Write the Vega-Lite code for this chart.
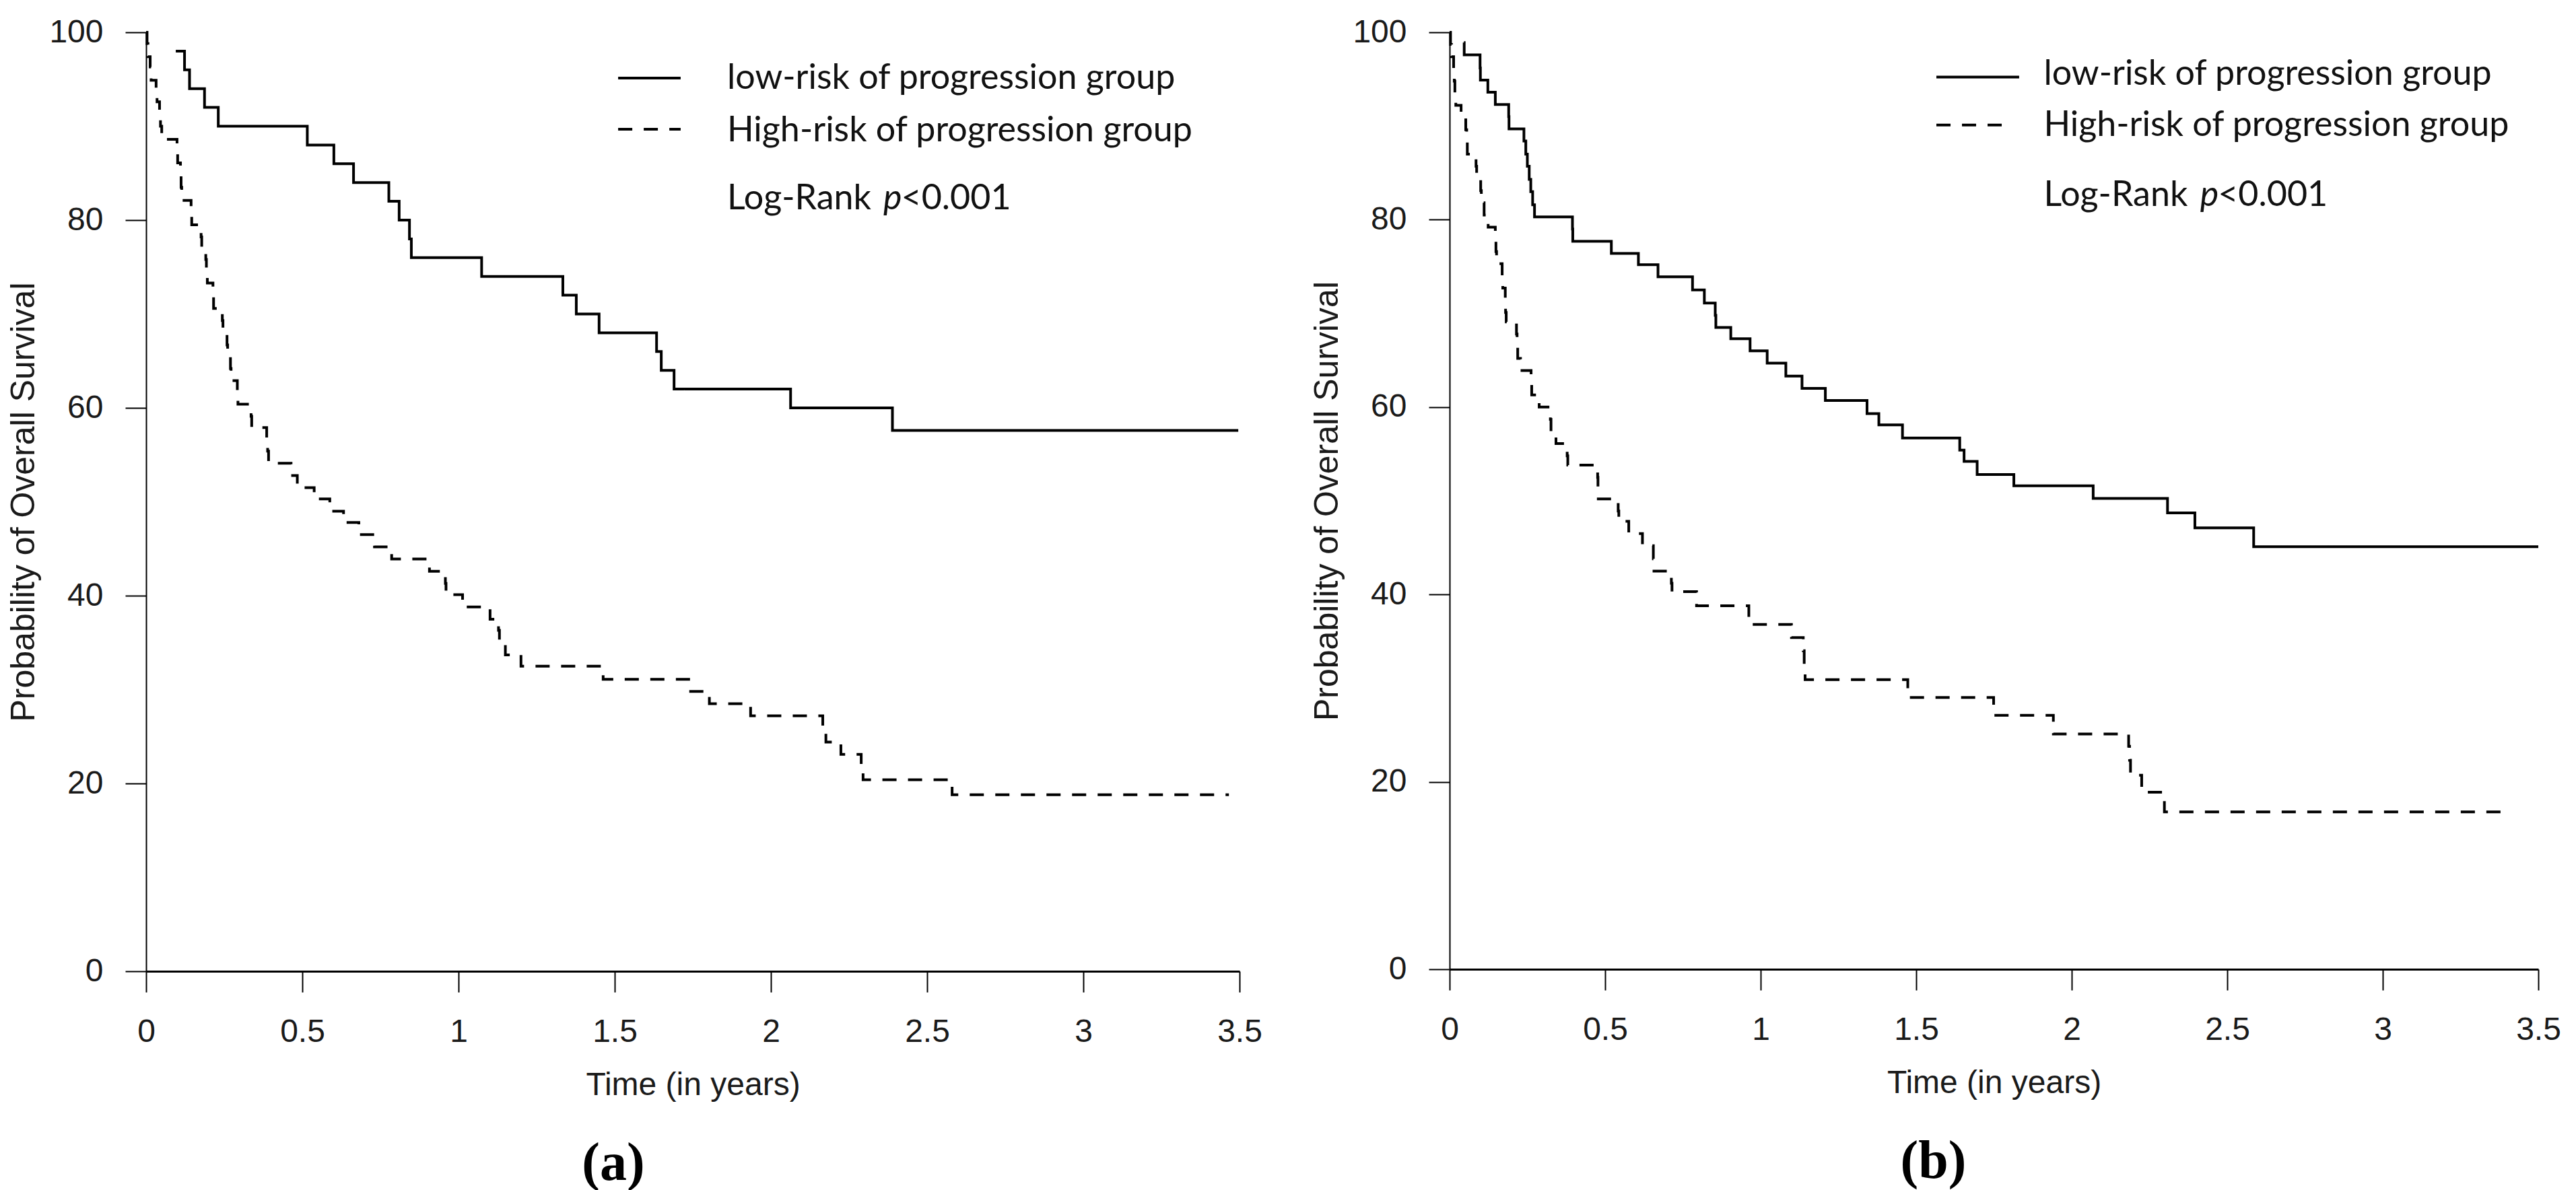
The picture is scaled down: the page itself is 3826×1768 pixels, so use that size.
{
  "$schema": "https://vega.github.io/schema/vega-lite/v6.json",
  "background": "white",
  "padding": {"left": 10, "top": 24, "right": 20, "bottom": 0},
  "datasets": {
    "a": [
      {"time": 0.095, "survival": 98, "group": "low-risk of progression group"},
      {"time": 0.123, "survival": 96, "group": "low-risk of progression group"},
      {"time": 0.139, "survival": 94, "group": "low-risk of progression group"},
      {"time": 0.187, "survival": 92, "group": "low-risk of progression group"},
      {"time": 0.231, "survival": 90, "group": "low-risk of progression group"},
      {"time": 0.516, "survival": 88, "group": "low-risk of progression group"},
      {"time": 0.601, "survival": 86, "group": "low-risk of progression group"},
      {"time": 0.664, "survival": 84, "group": "low-risk of progression group"},
      {"time": 0.777, "survival": 82, "group": "low-risk of progression group"},
      {"time": 0.81, "survival": 80, "group": "low-risk of progression group"},
      {"time": 0.843, "survival": 78, "group": "low-risk of progression group"},
      {"time": 0.849, "survival": 76, "group": "low-risk of progression group"},
      {"time": 1.074, "survival": 74, "group": "low-risk of progression group"},
      {"time": 1.334, "survival": 72, "group": "low-risk of progression group"},
      {"time": 1.377, "survival": 70, "group": "low-risk of progression group"},
      {"time": 1.45, "survival": 68, "group": "low-risk of progression group"},
      {"time": 1.634, "survival": 66, "group": "low-risk of progression group"},
      {"time": 1.649, "survival": 64, "group": "low-risk of progression group"},
      {"time": 1.69, "survival": 62, "group": "low-risk of progression group"},
      {"time": 2.063, "survival": 60, "group": "low-risk of progression group"},
      {"time": 2.389, "survival": 57.6, "group": "low-risk of progression group"},
      {"time": 3.496, "survival": 57.6, "group": "low-risk of progression group"},
      {"time": 0, "survival": 100, "group": "High-risk of progression group"},
      {"time": 0.003, "survival": 98.8, "group": "High-risk of progression group"},
      {"time": 0.006, "survival": 97.4, "group": "High-risk of progression group"},
      {"time": 0.013, "survival": 96.3, "group": "High-risk of progression group"},
      {"time": 0.016, "survival": 94.9, "group": "High-risk of progression group"},
      {"time": 0.032, "survival": 93.8, "group": "High-risk of progression group"},
      {"time": 0.035, "survival": 92.6, "group": "High-risk of progression group"},
      {"time": 0.043, "survival": 91.4, "group": "High-risk of progression group"},
      {"time": 0.046, "survival": 90.0, "group": "High-risk of progression group"},
      {"time": 0.05, "survival": 88.6, "group": "High-risk of progression group"},
      {"time": 0.099, "survival": 87.3, "group": "High-risk of progression group"},
      {"time": 0.101, "survival": 86.1, "group": "High-risk of progression group"},
      {"time": 0.11, "survival": 84.8, "group": "High-risk of progression group"},
      {"time": 0.112, "survival": 83.5, "group": "High-risk of progression group"},
      {"time": 0.114, "survival": 82.1, "group": "High-risk of progression group"},
      {"time": 0.144, "survival": 80.8, "group": "High-risk of progression group"},
      {"time": 0.146, "survival": 79.5, "group": "High-risk of progression group"},
      {"time": 0.176, "survival": 78.2, "group": "High-risk of progression group"},
      {"time": 0.178, "survival": 77.0, "group": "High-risk of progression group"},
      {"time": 0.191, "survival": 75.8, "group": "High-risk of progression group"},
      {"time": 0.193, "survival": 74.6, "group": "High-risk of progression group"},
      {"time": 0.196, "survival": 73.3, "group": "High-risk of progression group"},
      {"time": 0.214, "survival": 72.0, "group": "High-risk of progression group"},
      {"time": 0.216, "survival": 70.6, "group": "High-risk of progression group"},
      {"time": 0.244, "survival": 69.3, "group": "High-risk of progression group"},
      {"time": 0.246, "survival": 68.0, "group": "High-risk of progression group"},
      {"time": 0.259, "survival": 66.7, "group": "High-risk of progression group"},
      {"time": 0.261, "survival": 65.4, "group": "High-risk of progression group"},
      {"time": 0.27, "survival": 64.2, "group": "High-risk of progression group"},
      {"time": 0.272, "survival": 62.9, "group": "High-risk of progression group"},
      {"time": 0.292, "survival": 61.6, "group": "High-risk of progression group"},
      {"time": 0.294, "survival": 60.4, "group": "High-risk of progression group"},
      {"time": 0.336, "survival": 59.1, "group": "High-risk of progression group"},
      {"time": 0.338, "survival": 57.9, "group": "High-risk of progression group"},
      {"time": 0.386, "survival": 56.7, "group": "High-risk of progression group"},
      {"time": 0.389, "survival": 55.4, "group": "High-risk of progression group"},
      {"time": 0.392, "survival": 54.1, "group": "High-risk of progression group"},
      {"time": 0.464, "survival": 52.8, "group": "High-risk of progression group"},
      {"time": 0.484, "survival": 51.5, "group": "High-risk of progression group"},
      {"time": 0.538, "survival": 50.3, "group": "High-risk of progression group"},
      {"time": 0.588, "survival": 49.0, "group": "High-risk of progression group"},
      {"time": 0.632, "survival": 47.8, "group": "High-risk of progression group"},
      {"time": 0.681, "survival": 46.5, "group": "High-risk of progression group"},
      {"time": 0.731, "survival": 45.2, "group": "High-risk of progression group"},
      {"time": 0.786, "survival": 43.9, "group": "High-risk of progression group"},
      {"time": 0.907, "survival": 42.6, "group": "High-risk of progression group"},
      {"time": 0.958, "survival": 41.3, "group": "High-risk of progression group"},
      {"time": 0.96, "survival": 40.1, "group": "High-risk of progression group"},
      {"time": 1.013, "survival": 38.8, "group": "High-risk of progression group"},
      {"time": 1.101, "survival": 37.5, "group": "High-risk of progression group"},
      {"time": 1.128, "survival": 36.3, "group": "High-risk of progression group"},
      {"time": 1.131, "survival": 35.0, "group": "High-risk of progression group"},
      {"time": 1.15, "survival": 33.7, "group": "High-risk of progression group"},
      {"time": 1.2, "survival": 32.5, "group": "High-risk of progression group"},
      {"time": 1.463, "survival": 31.1, "group": "High-risk of progression group"},
      {"time": 1.743, "survival": 29.8, "group": "High-risk of progression group"},
      {"time": 1.803, "survival": 28.5, "group": "High-risk of progression group"},
      {"time": 1.935, "survival": 27.2, "group": "High-risk of progression group"},
      {"time": 2.166, "survival": 25.8, "group": "High-risk of progression group"},
      {"time": 2.176, "survival": 24.4, "group": "High-risk of progression group"},
      {"time": 2.224, "survival": 23.1, "group": "High-risk of progression group"},
      {"time": 2.289, "survival": 21.8, "group": "High-risk of progression group"},
      {"time": 2.295, "survival": 20.4, "group": "High-risk of progression group"},
      {"time": 2.58, "survival": 18.8, "group": "High-risk of progression group"},
      {"time": 3.466, "survival": 18.8, "group": "High-risk of progression group"}
    ],
    "b": [
      {"time": 0.046, "survival": 98.9, "group": "low-risk of progression group"},
      {"time": 0.047, "survival": 97.6, "group": "low-risk of progression group"},
      {"time": 0.098, "survival": 96.2, "group": "low-risk of progression group"},
      {"time": 0.099, "survival": 94.9, "group": "low-risk of progression group"},
      {"time": 0.123, "survival": 93.6, "group": "low-risk of progression group"},
      {"time": 0.147, "survival": 92.3, "group": "low-risk of progression group"},
      {"time": 0.19, "survival": 91.0, "group": "low-risk of progression group"},
      {"time": 0.191, "survival": 89.7, "group": "low-risk of progression group"},
      {"time": 0.239, "survival": 88.4, "group": "low-risk of progression group"},
      {"time": 0.245, "survival": 87.0, "group": "low-risk of progression group"},
      {"time": 0.25, "survival": 85.7, "group": "low-risk of progression group"},
      {"time": 0.256, "survival": 84.3, "group": "low-risk of progression group"},
      {"time": 0.261, "survival": 83.0, "group": "low-risk of progression group"},
      {"time": 0.267, "survival": 81.6, "group": "low-risk of progression group"},
      {"time": 0.273, "survival": 80.3, "group": "low-risk of progression group"},
      {"time": 0.395, "survival": 79.0, "group": "low-risk of progression group"},
      {"time": 0.396, "survival": 77.7, "group": "low-risk of progression group"},
      {"time": 0.52, "survival": 76.4, "group": "low-risk of progression group"},
      {"time": 0.607, "survival": 75.2, "group": "low-risk of progression group"},
      {"time": 0.67, "survival": 73.9, "group": "low-risk of progression group"},
      {"time": 0.781, "survival": 72.5, "group": "low-risk of progression group"},
      {"time": 0.819, "survival": 71.1, "group": "low-risk of progression group"},
      {"time": 0.854, "survival": 69.8, "group": "low-risk of progression group"},
      {"time": 0.856, "survival": 68.5, "group": "low-risk of progression group"},
      {"time": 0.904, "survival": 67.3, "group": "low-risk of progression group"},
      {"time": 0.966, "survival": 66.0, "group": "low-risk of progression group"},
      {"time": 1.021, "survival": 64.7, "group": "low-risk of progression group"},
      {"time": 1.081, "survival": 63.3, "group": "low-risk of progression group"},
      {"time": 1.133, "survival": 62.0, "group": "low-risk of progression group"},
      {"time": 1.208, "survival": 60.7, "group": "low-risk of progression group"},
      {"time": 1.342, "survival": 59.3, "group": "low-risk of progression group"},
      {"time": 1.38, "survival": 58.1, "group": "low-risk of progression group"},
      {"time": 1.456, "survival": 56.7, "group": "low-risk of progression group"},
      {"time": 1.64, "survival": 55.4, "group": "low-risk of progression group"},
      {"time": 1.654, "survival": 54.2, "group": "low-risk of progression group"},
      {"time": 1.696, "survival": 52.8, "group": "low-risk of progression group"},
      {"time": 1.814, "survival": 51.6, "group": "low-risk of progression group"},
      {"time": 2.069, "survival": 50.25, "group": "low-risk of progression group"},
      {"time": 2.308, "survival": 48.7, "group": "low-risk of progression group"},
      {"time": 2.396, "survival": 47.1, "group": "low-risk of progression group"},
      {"time": 2.585, "survival": 45.1, "group": "low-risk of progression group"},
      {"time": 3.5, "survival": 45.1, "group": "low-risk of progression group"},
      {"time": 0, "survival": 100, "group": "High-risk of progression group"},
      {"time": 0.003, "survival": 98.7, "group": "High-risk of progression group"},
      {"time": 0.006, "survival": 97.4, "group": "High-risk of progression group"},
      {"time": 0.013, "survival": 96.1, "group": "High-risk of progression group"},
      {"time": 0.015, "survival": 94.8, "group": "High-risk of progression group"},
      {"time": 0.017, "survival": 93.5, "group": "High-risk of progression group"},
      {"time": 0.02, "survival": 92.2, "group": "High-risk of progression group"},
      {"time": 0.037, "survival": 90.9, "group": "High-risk of progression group"},
      {"time": 0.052, "survival": 89.6, "group": "High-risk of progression group"},
      {"time": 0.055, "survival": 88.3, "group": "High-risk of progression group"},
      {"time": 0.057, "survival": 87.0, "group": "High-risk of progression group"},
      {"time": 0.085, "survival": 85.7, "group": "High-risk of progression group"},
      {"time": 0.087, "survival": 84.4, "group": "High-risk of progression group"},
      {"time": 0.1, "survival": 83.1, "group": "High-risk of progression group"},
      {"time": 0.102, "survival": 81.8, "group": "High-risk of progression group"},
      {"time": 0.111, "survival": 80.5, "group": "High-risk of progression group"},
      {"time": 0.124, "survival": 79.2, "group": "High-risk of progression group"},
      {"time": 0.147, "survival": 77.9, "group": "High-risk of progression group"},
      {"time": 0.149, "survival": 76.6, "group": "High-risk of progression group"},
      {"time": 0.151, "survival": 75.3, "group": "High-risk of progression group"},
      {"time": 0.169, "survival": 74.0, "group": "High-risk of progression group"},
      {"time": 0.171, "survival": 72.7, "group": "High-risk of progression group"},
      {"time": 0.179, "survival": 71.4, "group": "High-risk of progression group"},
      {"time": 0.18, "survival": 70.1, "group": "High-risk of progression group"},
      {"time": 0.182, "survival": 69.1, "group": "High-risk of progression group"},
      {"time": 0.215, "survival": 67.8, "group": "High-risk of progression group"},
      {"time": 0.217, "survival": 66.5, "group": "High-risk of progression group"},
      {"time": 0.219, "survival": 65.2, "group": "High-risk of progression group"},
      {"time": 0.228, "survival": 63.9, "group": "High-risk of progression group"},
      {"time": 0.262, "survival": 62.6, "group": "High-risk of progression group"},
      {"time": 0.264, "survival": 61.3, "group": "High-risk of progression group"},
      {"time": 0.288, "survival": 60.0, "group": "High-risk of progression group"},
      {"time": 0.324, "survival": 58.7, "group": "High-risk of progression group"},
      {"time": 0.326, "survival": 57.4, "group": "High-risk of progression group"},
      {"time": 0.342, "survival": 56.1, "group": "High-risk of progression group"},
      {"time": 0.378, "survival": 54.8, "group": "High-risk of progression group"},
      {"time": 0.38, "survival": 53.8, "group": "High-risk of progression group"},
      {"time": 0.476, "survival": 52.5, "group": "High-risk of progression group"},
      {"time": 0.477, "survival": 51.3, "group": "High-risk of progression group"},
      {"time": 0.478, "survival": 50.2, "group": "High-risk of progression group"},
      {"time": 0.542, "survival": 48.9, "group": "High-risk of progression group"},
      {"time": 0.544, "survival": 47.8, "group": "High-risk of progression group"},
      {"time": 0.576, "survival": 46.5, "group": "High-risk of progression group"},
      {"time": 0.62, "survival": 45.2, "group": "High-risk of progression group"},
      {"time": 0.655, "survival": 43.8, "group": "High-risk of progression group"},
      {"time": 0.657, "survival": 42.5, "group": "High-risk of progression group"},
      {"time": 0.713, "survival": 41.2, "group": "High-risk of progression group"},
      {"time": 0.715, "survival": 40.3, "group": "High-risk of progression group"},
      {"time": 0.794, "survival": 38.8, "group": "High-risk of progression group"},
      {"time": 0.962, "survival": 36.8, "group": "High-risk of progression group"},
      {"time": 1.099, "survival": 35.4, "group": "High-risk of progression group"},
      {"time": 1.137, "survival": 34.0, "group": "High-risk of progression group"},
      {"time": 1.14, "survival": 32.5, "group": "High-risk of progression group"},
      {"time": 1.143, "survival": 30.9, "group": "High-risk of progression group"},
      {"time": 1.473, "survival": 29.0, "group": "High-risk of progression group"},
      {"time": 1.749, "survival": 27.1, "group": "High-risk of progression group"},
      {"time": 1.941, "survival": 25.1, "group": "High-risk of progression group"},
      {"time": 2.183, "survival": 23.8, "group": "High-risk of progression group"},
      {"time": 2.186, "survival": 22.3, "group": "High-risk of progression group"},
      {"time": 2.189, "survival": 20.7, "group": "High-risk of progression group"},
      {"time": 2.225, "survival": 18.9, "group": "High-risk of progression group"},
      {"time": 2.298, "survival": 16.8, "group": "High-risk of progression group"},
      {"time": 3.404, "survival": 16.8, "group": "High-risk of progression group"}
    ]
  },
  "spacing": 71,
  "hconcat": [
    {
      "width": 1624,
      "height": 1395,
      "title": {"text": "(a)", "orient": "bottom", "anchor": "middle", "dx": -118, "offset": 54, "font": "Liberation Serif", "fontSize": 80, "fontWeight": "bold", "color": "#000000"},
      "layer": [
        {
          "data": {"name": "a"},
          "mark": {"type": "line", "interpolate": "step-after", "strokeWidth": 4, "color": "#000000"},
          "encoding": {
            "x": {"field": "time", "type": "quantitative", "scale": {"domain": [0, 3.5], "nice": false, "zero": false}, "axis": {"title": "Time (in years)", "values": [0, 0.5, 1, 1.5, 2, 2.5, 3, 3.5], "format": "~g"}},
            "y": {"field": "survival", "type": "quantitative", "scale": {"domain": [0, 100], "nice": false}, "axis": {"title": "Probability of Overall Survival", "values": [0, 20, 40, 60, 80, 100]}},
            "strokeDash": {"field": "group", "type": "nominal", "scale": {"domain": ["low-risk of progression group", "High-risk of progression group"], "range": [[1, 0], [21, 17]]}, "legend": null}
          }
        },
        {"data": {"values": [{}]}, "mark": {"type": "rule", "strokeWidth": 4, "color": "#000000"}, "encoding": {"x": {"datum": 1.511}, "x2": {"datum": 1.711}, "y": {"datum": 95.13}}},
        {"data": {"values": [{}]}, "mark": {"type": "rule", "strokeWidth": 4, "color": "#000000", "strokeDash": [21, 17]}, "encoding": {"x": {"datum": 1.511}, "x2": {"datum": 1.711}, "y": {"datum": 89.68}}},
        {"data": {"values": [{}]}, "mark": {"type": "text", "text": "low-risk of progression group", "align": "left", "baseline": "alphabetic", "font": "Lato", "fontSize": 52, "color": "#111111"}, "encoding": {"x": {"datum": 1.86}, "y": {"datum": 93.98}}},
        {"data": {"values": [{}]}, "mark": {"type": "text", "text": "High-risk of progression group", "align": "left", "baseline": "alphabetic", "font": "Lato", "fontSize": 52, "color": "#111111"}, "encoding": {"x": {"datum": 1.86}, "y": {"datum": 88.39}}},
        {"data": {"values": [{}]}, "mark": {"type": "text", "text": "Log-Rank", "align": "left", "baseline": "alphabetic", "font": "Lato", "fontSize": 52, "color": "#111111"}, "encoding": {"x": {"datum": 1.86}, "y": {"datum": 81.15}}},
        {"data": {"values": [{}]}, "mark": {"type": "text", "text": "p", "align": "left", "baseline": "alphabetic", "font": "Lato", "fontSize": 52, "fontStyle": "italic", "color": "#111111"}, "encoding": {"x": {"datum": 2.36}, "y": {"datum": 81.15}}},
        {"data": {"values": [{}]}, "mark": {"type": "text", "text": "<0.001", "align": "left", "baseline": "alphabetic", "font": "Lato", "fontSize": 52, "color": "#111111"}, "encoding": {"x": {"datum": 2.417}, "y": {"datum": 81.15}}}
      ]
    },
    {
      "width": 1617,
      "height": 1392,
      "title": {"text": "(b)", "orient": "bottom", "anchor": "middle", "dx": -90, "offset": 54, "font": "Liberation Serif", "fontSize": 80, "fontWeight": "bold", "color": "#000000"},
      "layer": [
        {
          "data": {"name": "b"},
          "mark": {"type": "line", "interpolate": "step-after", "strokeWidth": 4, "color": "#000000"},
          "encoding": {
            "x": {"field": "time", "type": "quantitative", "scale": {"domain": [0, 3.5], "nice": false, "zero": false}, "axis": {"title": "Time (in years)", "values": [0, 0.5, 1, 1.5, 2, 2.5, 3, 3.5], "format": "~g"}},
            "y": {"field": "survival", "type": "quantitative", "scale": {"domain": [0, 100], "nice": false}, "axis": {"title": "Probability of Overall Survival", "values": [0, 20, 40, 60, 80, 100]}},
            "strokeDash": {"field": "group", "type": "nominal", "scale": {"domain": ["low-risk of progression group", "High-risk of progression group"], "range": [[1, 0], [21, 17]]}, "legend": null}
          }
        },
        {"data": {"values": [{}]}, "mark": {"type": "rule", "strokeWidth": 4, "color": "#000000"}, "encoding": {"x": {"datum": 1.565}, "x2": {"datum": 1.831}, "y": {"datum": 95.23}}},
        {"data": {"values": [{}]}, "mark": {"type": "rule", "strokeWidth": 4, "color": "#000000", "strokeDash": [21, 17]}, "encoding": {"x": {"datum": 1.565}, "x2": {"datum": 1.8}, "y": {"datum": 90.1}}},
        {"data": {"values": [{}]}, "mark": {"type": "text", "text": "low-risk of progression group", "align": "left", "baseline": "alphabetic", "font": "Lato", "fontSize": 52, "color": "#111111"}, "encoding": {"x": {"datum": 1.91}, "y": {"datum": 94.37}}},
        {"data": {"values": [{}]}, "mark": {"type": "text", "text": "High-risk of progression group", "align": "left", "baseline": "alphabetic", "font": "Lato", "fontSize": 52, "color": "#111111"}, "encoding": {"x": {"datum": 1.91}, "y": {"datum": 88.92}}},
        {"data": {"values": [{}]}, "mark": {"type": "text", "text": "Log-Rank", "align": "left", "baseline": "alphabetic", "font": "Lato", "fontSize": 52, "color": "#111111"}, "encoding": {"x": {"datum": 1.91}, "y": {"datum": 81.44}}},
        {"data": {"values": [{}]}, "mark": {"type": "text", "text": "p", "align": "left", "baseline": "alphabetic", "font": "Lato", "fontSize": 52, "fontStyle": "italic", "color": "#111111"}, "encoding": {"x": {"datum": 2.413}, "y": {"datum": 81.44}}},
        {"data": {"values": [{}]}, "mark": {"type": "text", "text": "<0.001", "align": "left", "baseline": "alphabetic", "font": "Lato", "fontSize": 52, "color": "#111111"}, "encoding": {"x": {"datum": 2.47}, "y": {"datum": 81.44}}}
      ]
    }
  ],
  "config": {
    "view": {"stroke": null},
    "axis": {
      "grid": false,
      "domainColor": "#000000",
      "domainWidth": 2,
      "tickColor": "#000000",
      "tickWidth": 2,
      "tickSize": 31,
      "labelFont": "Liberation Sans",
      "labelFontSize": 48,
      "labelColor": "#1a1a1a",
      "labelFlush": false,
      "labelOverlap": false,
      "titleFont": "Liberation Sans",
      "titleFontSize": 48,
      "titleFontWeight": "normal",
      "titleColor": "#1a1a1a"
    },
    "axisX": {"labelPadding": 35, "titlePadding": 31, "domainWidth": 3},
    "axisY": {"labelPadding": 33, "titlePadding": 12, "titleFontSize": 50}
  }
}
